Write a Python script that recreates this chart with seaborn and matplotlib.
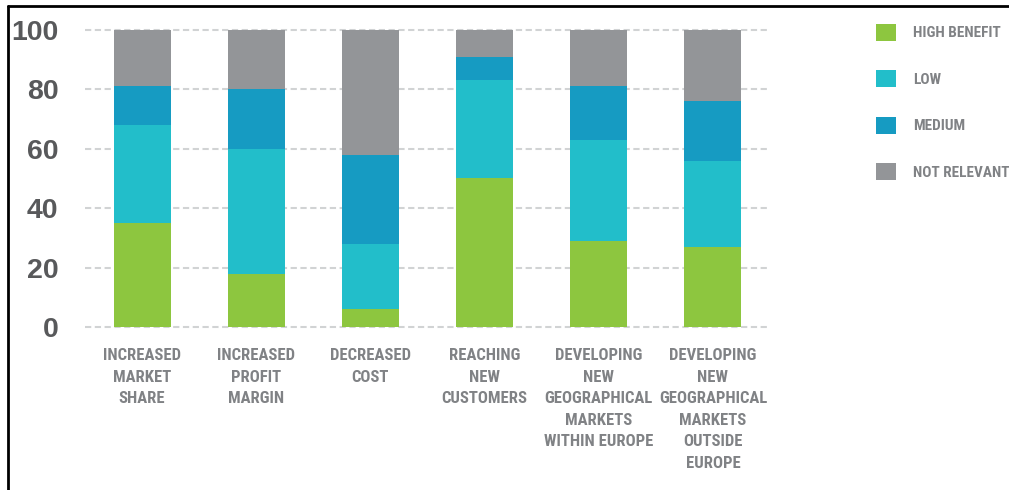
import numpy as np
import pandas as pd
import matplotlib.pyplot as plt
from matplotlib.lines import Line2D
import seaborn as sns

# --- data (percent of respondents) ---
categories = [
    "INCREASED\nMARKET\nSHARE",
    "INCREASED\nPROFIT\nMARGIN",
    "DECREASED\nCOST",
    "REACHING\nNEW\nCUSTOMERS",
    "DEVELOPING\nNEW\nGEOGRAPHICAL\nMARKETS\nWITHIN EUROPE",
    "DEVELOPING\nNEW\nGEOGRAPHICAL\nMARKETS\nOUTSIDE\nEUROPE",
]
high_benefit = [35, 18, 6, 50, 29, 27]
low = [33, 42, 22, 33, 34, 29]
medium = [13, 20, 30, 8, 18, 20]
not_relevant = [19, 20, 42, 9, 19, 24]

series_names = ["HIGH BENEFIT", "LOW", "MEDIUM", "NOT RELEVANT"]
colors = ["#8DC63F", "#22BECA", "#169BC2", "#939598"]

df = pd.DataFrame({
    "category": categories,
    "HIGH BENEFIT": high_benefit,
    "LOW": low,
    "MEDIUM": medium,
    "NOT RELEVANT": not_relevant,
})
# cumulative tops for the stacked look (draw tallest first)
cum = df[series_names].cumsum(axis=1)

sns.set_theme(style="white")
narrow = ["Roboto Condensed", "DejaVu Sans"]
plt.rcParams["font.family"] = narrow
plt.rcParams["font.stretch"] = "condensed"

fig = plt.figure(figsize=(10.09, 4.90), dpi=100)
ax = fig.add_axes([85 / 1009, 1 - 330 / 490, 685 / 1009, 303 / 490])

for name, color in reversed(list(zip(series_names, colors))):
    sns.barplot(x=df["category"], y=cum[name], color=color, width=0.5,
                saturation=1, label=name, linewidth=0,
                ax=ax, zorder=3)

ax.set_xlim(-0.5, 5.5)
ax.set_ylim(-1, 101)
ax.set_yticks(range(0, 101, 20))
ax.yaxis.grid(True, color="#D1D3D4", linestyle=(0, (3, 1.7)), linewidth=1.5, zorder=0)
ax.xaxis.grid(False)
for s in ax.spines.values():
    s.set_visible(False)
ax.tick_params(length=0)
ax.set_xlabel("")
ax.set_ylabel("")

for t in ax.get_yticklabels():
    t.set_family(["Liberation Sans", "DejaVu Sans"])
    t.set_fontweight("bold")
    t.set_fontsize(20.5)
    t.set_color("#58595B")
ax.tick_params(axis="y", pad=19)
ax.tick_params(axis="x", pad=13)
for t in ax.get_xticklabels():
    t.set_fontsize(12)
    t.set_color("#808285")
    t.set_fontweight("bold")
    t.set_linespacing(1.55)

handles, labels = ax.get_legend_handles_labels()
leg = ax.legend(handles[::-1], labels[::-1], loc="upper left",
                bbox_to_anchor=(876 / 1009, 1 - 24 / 490),
                bbox_transform=fig.transFigure, frameon=False,
                handlelength=1.3, handleheight=1.3, handletextpad=1.1,
                labelspacing=1.95, borderpad=0, borderaxespad=0,
                prop={"size": 11, "weight": "bold"})
for t in leg.get_texts():
    t.set_color("#808285")

# black frame along the top and left of the picture
fig.add_artist(Line2D([8 / 1009, 8 / 1009], [0, 1 - 6 / 490],
                      transform=fig.transFigure, color="black", linewidth=2))
fig.add_artist(Line2D([8 / 1009, 1], [1 - 6 / 490, 1 - 6 / 490],
                      transform=fig.transFigure, color="black", linewidth=2))

plt.savefig("out.png", dpi=100)
